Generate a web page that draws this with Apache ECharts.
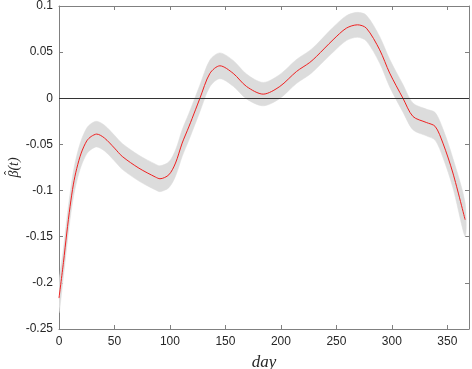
<!DOCTYPE html>
<html>
<head>
<meta charset="utf-8">
<script src="https://cdn.jsdelivr.net/npm/echarts@6/dist/echarts.min.js"></script>
<style>
html,body{margin:0;padding:0;background:#fff;}
#c{width:472px;height:369px;}
</style>
</head>
<body>
<div id="c"></div>
<script>
var days = [0, 4, 7, 10, 13, 16, 20, 25, 29, 34, 41, 50, 57, 72, 87, 91, 99, 105, 111, 117, 123, 127, 136, 145, 157, 169, 184, 199, 214, 226, 232, 247, 259, 269, 277, 289, 298, 310, 319, 331, 339, 346, 355, 366];
// Estimated beta(t)
var beta = [-0.2165, -0.178, -0.146, -0.117, -0.093, -0.076, -0.0594, -0.0462, -0.0414, -0.0388, -0.0431, -0.054, -0.063, -0.0757, -0.0854, -0.0872, -0.0829, -0.0702, -0.0486, -0.031, -0.0125, 0, 0.027, 0.0352, 0.027, 0.0128, 0.0045, 0.0128, 0.029, 0.0388, 0.0453, 0.0634, 0.076, 0.0796, 0.076, 0.0525, 0.0273, 0, -0.0197, -0.0262, -0.0305, -0.0486, -0.081, -0.1316];
// Confidence band bounds
var upper = [-0.2005, -0.163, -0.131, -0.103, -0.079, -0.062, -0.0454, -0.0322, -0.0274, -0.0249, -0.0292, -0.0401, -0.049, -0.0617, -0.0714, -0.0732, -0.0689, -0.056, -0.0341, -0.0165, 0.002, 0.0145, 0.0415, 0.0492, 0.041, 0.0263, 0.0172, 0.0258, 0.042, 0.0518, 0.0583, 0.0769, 0.0895, 0.0931, 0.090, 0.067, 0.0423, 0.015, -0.0052, -0.0117, -0.0155, -0.0331, -0.065, -0.1136];
var lower = [-0.2325, -0.193, -0.161, -0.131, -0.107, -0.090, -0.0734, -0.0602, -0.0554, -0.0527, -0.0570, -0.0679, -0.077, -0.0897, -0.0994, -0.1012, -0.0969, -0.0844, -0.0631, -0.0455, -0.027, -0.0145, 0.0125, 0.0212, 0.013, -0.0007, -0.0082, -0.0002, 0.016, 0.0258, 0.0323, 0.0499, 0.0625, 0.0661, 0.062, 0.038, 0.0123, -0.015, -0.0342, -0.0407, -0.0455, -0.0641, -0.097, -0.1496];
// Axis ticks
var xTicks = [0, 50, 100, 150, 200, 250, 300, 350];
var yTicks = [-0.25, -0.2, -0.15, -0.1, -0.05, 0, 0.05, 0.1];

var xMin = 0, xMax = 369.5, xInt = 50;
var yMin = -0.25, yMax = 0.1, yInt = 0.05;

var axisCol = '#808080';
var labelStyle = {color: '#262626', fontFamily: 'Liberation Sans, Arial, sans-serif', fontSize: 12};

var linePts = days.map(function (d, i) { return [d, beta[i]]; });
var bandPts = days.map(function (d, i) { return [d, upper[i], lower[i]]; });

function fmtY(v) {
  var r = Math.round(v * 100) / 100;
  return String(r);
}

var serif = 'Liberation Serif, DejaVu Serif, serif';

var chart = echarts.init(document.getElementById('c'), null, {renderer: 'canvas'});
chart.setOption({
  animation: false,
  backgroundColor: '#fff',
  grid: {left: 59, right: 3, top: 6, bottom: 40, containLabel: false, outerBoundsMode: 'none'},
  graphic: [{
    type: 'text',
    x: 10, y: 173,
    rotation: Math.PI / 2,
    silent: true,
    z: 100,
    style: {text: '\u02C6', fontFamily: serif, fontSize: 12, fill: '#262626', align: 'center', verticalAlign: 'middle'}
  }],
  xAxis: [{
    type: 'value', min: xMin, max: xMax, interval: xInt,
    position: 'bottom',
    axisLine: {show: true, onZero: false, lineStyle: {color: axisCol, width: 1}},
    axisTick: {show: true, inside: true, length: 4, lineStyle: {color: axisCol}},
    axisLabel: Object.assign({margin: 7, showMaxLabel: false, formatter: function (v) { return xTicks.indexOf(v) >= 0 ? String(v) : ''; }}, labelStyle),
    splitLine: {show: false},
    name: 'day', nameLocation: 'middle', nameGap: 25, nameMoveOverlap: false,
    nameTextStyle: {fontFamily: serif, fontStyle: 'italic', fontSize: 17, color: '#262626'}
  }, {
    type: 'value', min: xMin, max: xMax, interval: xInt,
    position: 'top',
    axisLine: {show: true, onZero: false, lineStyle: {color: axisCol, width: 1}},
    axisTick: {show: true, inside: true, length: 4, lineStyle: {color: axisCol}},
    axisLabel: {show: false},
    splitLine: {show: false}
  }],
  yAxis: [{
    type: 'value', min: yMin, max: yMax, interval: yInt,
    position: 'left',
    axisLine: {show: true, onZero: false, lineStyle: {color: axisCol, width: 1}},
    axisTick: {show: true, inside: true, length: 4, lineStyle: {color: axisCol}},
    axisLabel: Object.assign({margin: 6, formatter: fmtY}, labelStyle),
    splitLine: {show: false},
    name: '\u03B2(t)', nameLocation: 'middle', nameGap: 38, nameRotate: 90, nameMoveOverlap: false,
    nameTextStyle: {fontFamily: serif, fontStyle: 'italic', fontSize: 14, lineHeight: 14, color: '#262626'}
  }, {
    type: 'value', min: yMin, max: yMax, interval: yInt,
    position: 'right',
    axisLine: {show: true, onZero: false, lineStyle: {color: axisCol, width: 1}},
    axisTick: {show: true, inside: true, length: 4, lineStyle: {color: axisCol}},
    axisLabel: {show: false},
    splitLine: {show: false}
  }],
  series: [{
    type: 'custom',
    name: 'band',
    xAxisIndex: 0, yAxisIndex: 0,
    data: [0],
    clip: true,
    z: 1,
    silent: true,
    renderItem: function (params, api) {
      if (params.dataIndex !== 0) return null;
      var pts = [];
      for (var i = 0; i < bandPts.length; i++) pts.push(api.coord([bandPts[i][0], bandPts[i][1]]));
      for (var j = bandPts.length - 1; j >= 0; j--) pts.push(api.coord([bandPts[j][0], bandPts[j][2]]));
      return {
        type: 'polygon',
        shape: {points: pts, smooth: 0.3},
        style: {fill: '#dcdcdc', stroke: '#dcdcdc', lineWidth: 0.5}
      };
    },
    encode: {x: -1, y: -1}
  }, {
    type: 'line',
    name: 'zero',
    data: [],
    z: 3,
    markLine: {
      silent: true, symbol: ['none', 'none'], label: {show: false},
      lineStyle: {color: '#333333', width: 1, type: 'solid'},
      data: [{yAxis: 0}]
    }
  }, {
    type: 'line',
    name: 'beta',
    data: linePts,
    smooth: 0.3,
    showSymbol: false,
    symbol: 'none',
    z: 4,
    lineStyle: {color: '#f02020', width: 1}
  }]
});
</script>
</body>
</html>
